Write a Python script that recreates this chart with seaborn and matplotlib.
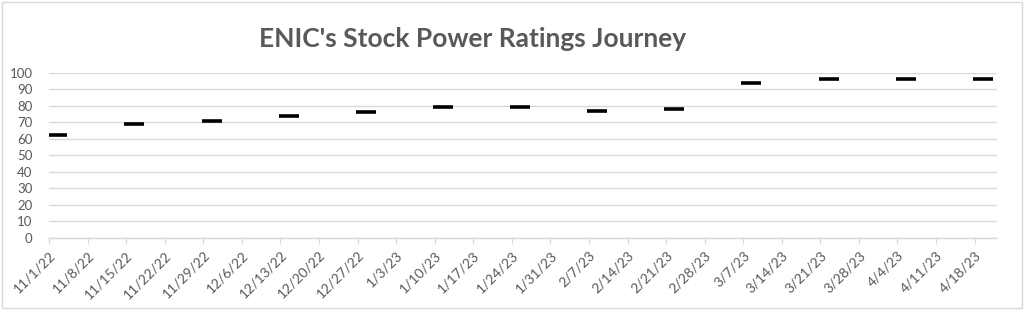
import matplotlib
matplotlib.use("Agg")
import matplotlib.pyplot as plt
import matplotlib.transforms as mtransforms
import seaborn as sns
import pandas as pd
from matplotlib.patches import Rectangle

# ---- data ----
dates = ["2022-11-02", "2022-11-16", "2022-11-30", "2022-12-14", "2022-12-28",
         "2023-01-11", "2023-01-25", "2023-02-08", "2023-02-22", "2023-03-08",
         "2023-03-22", "2023-04-05", "2023-04-19"]
ratings = [62, 69, 71, 74, 76, 79, 79, 77, 78, 94, 96, 96, 96]
tick_dates = pd.date_range("2022-11-01", "2023-04-18", freq="7D")
tick_labels = [f"{d.month}/{d.day}/{d.year % 100}" for d in tick_dates]
y_ticks = list(range(0, 101, 10))
title = "ENIC's Stock Power Ratings Journey"

df = pd.DataFrame({"date": pd.to_datetime(dates) + pd.Timedelta(hours=12), "rating": ratings})

sns.set_theme(style="white")
plt.rcParams["font.family"] = ["Lato", "DejaVu Sans"]

fig = plt.figure(figsize=(10.24, 3.10), dpi=100)
ax = fig.add_axes([0.0479, 0.2332, 0.9254, 0.5323])

sns.scatterplot(data=df, x="date", y="rating", marker="_", s=14.5**2,
                linewidth=2.6, color="black", ax=ax, zorder=3, legend=False)

ax.set_ylim(0, 100)
ax.set_yticks(y_ticks)
ax.set_yticklabels([str(v) for v in y_ticks], fontsize=9.5, color="#595959")
ax.set_xlim(pd.Timestamp("2022-11-01"), pd.Timestamp("2023-04-22"))
ax.set_xticks(tick_dates)
ax.set_xticklabels(tick_labels, fontsize=10, color="#595959", rotation=45,
                   ha="right", va="top", rotation_mode="anchor")
offset = mtransforms.ScaledTranslation(6 / 100, -6 / 100, fig.dpi_scale_trans)
for lab in ax.get_xticklabels():
    lab.set_transform(lab.get_transform() + offset)
ax.set_xlabel("")
ax.set_ylabel("")

ax.grid(axis="y", color="#d9d9d9", linewidth=1.0)
ax.grid(axis="x", visible=False)
ax.set_axisbelow(True)
for side in ["top", "right", "left"]:
    ax.spines[side].set_visible(False)
ax.spines["bottom"].set_color("#d9d9d9")
ax.spines["bottom"].set_linewidth(1.0)
ax.tick_params(axis="x", which="both", bottom=True, length=4, width=0.8,
               color="#d9d9d9", pad=4)
ax.tick_params(axis="y", left=False, pad=6)

fig.text(0.461, 0.875, title, ha="center", va="center", fontsize=19,
         fontweight="bold", color="#595959")

fig.patches.append(Rectangle((0.002, 0.005), 0.996, 0.99, transform=fig.transFigure,
                             fill=False, edgecolor="#d9d9d9", linewidth=1.0))

fig.savefig("out.png", dpi=100)
